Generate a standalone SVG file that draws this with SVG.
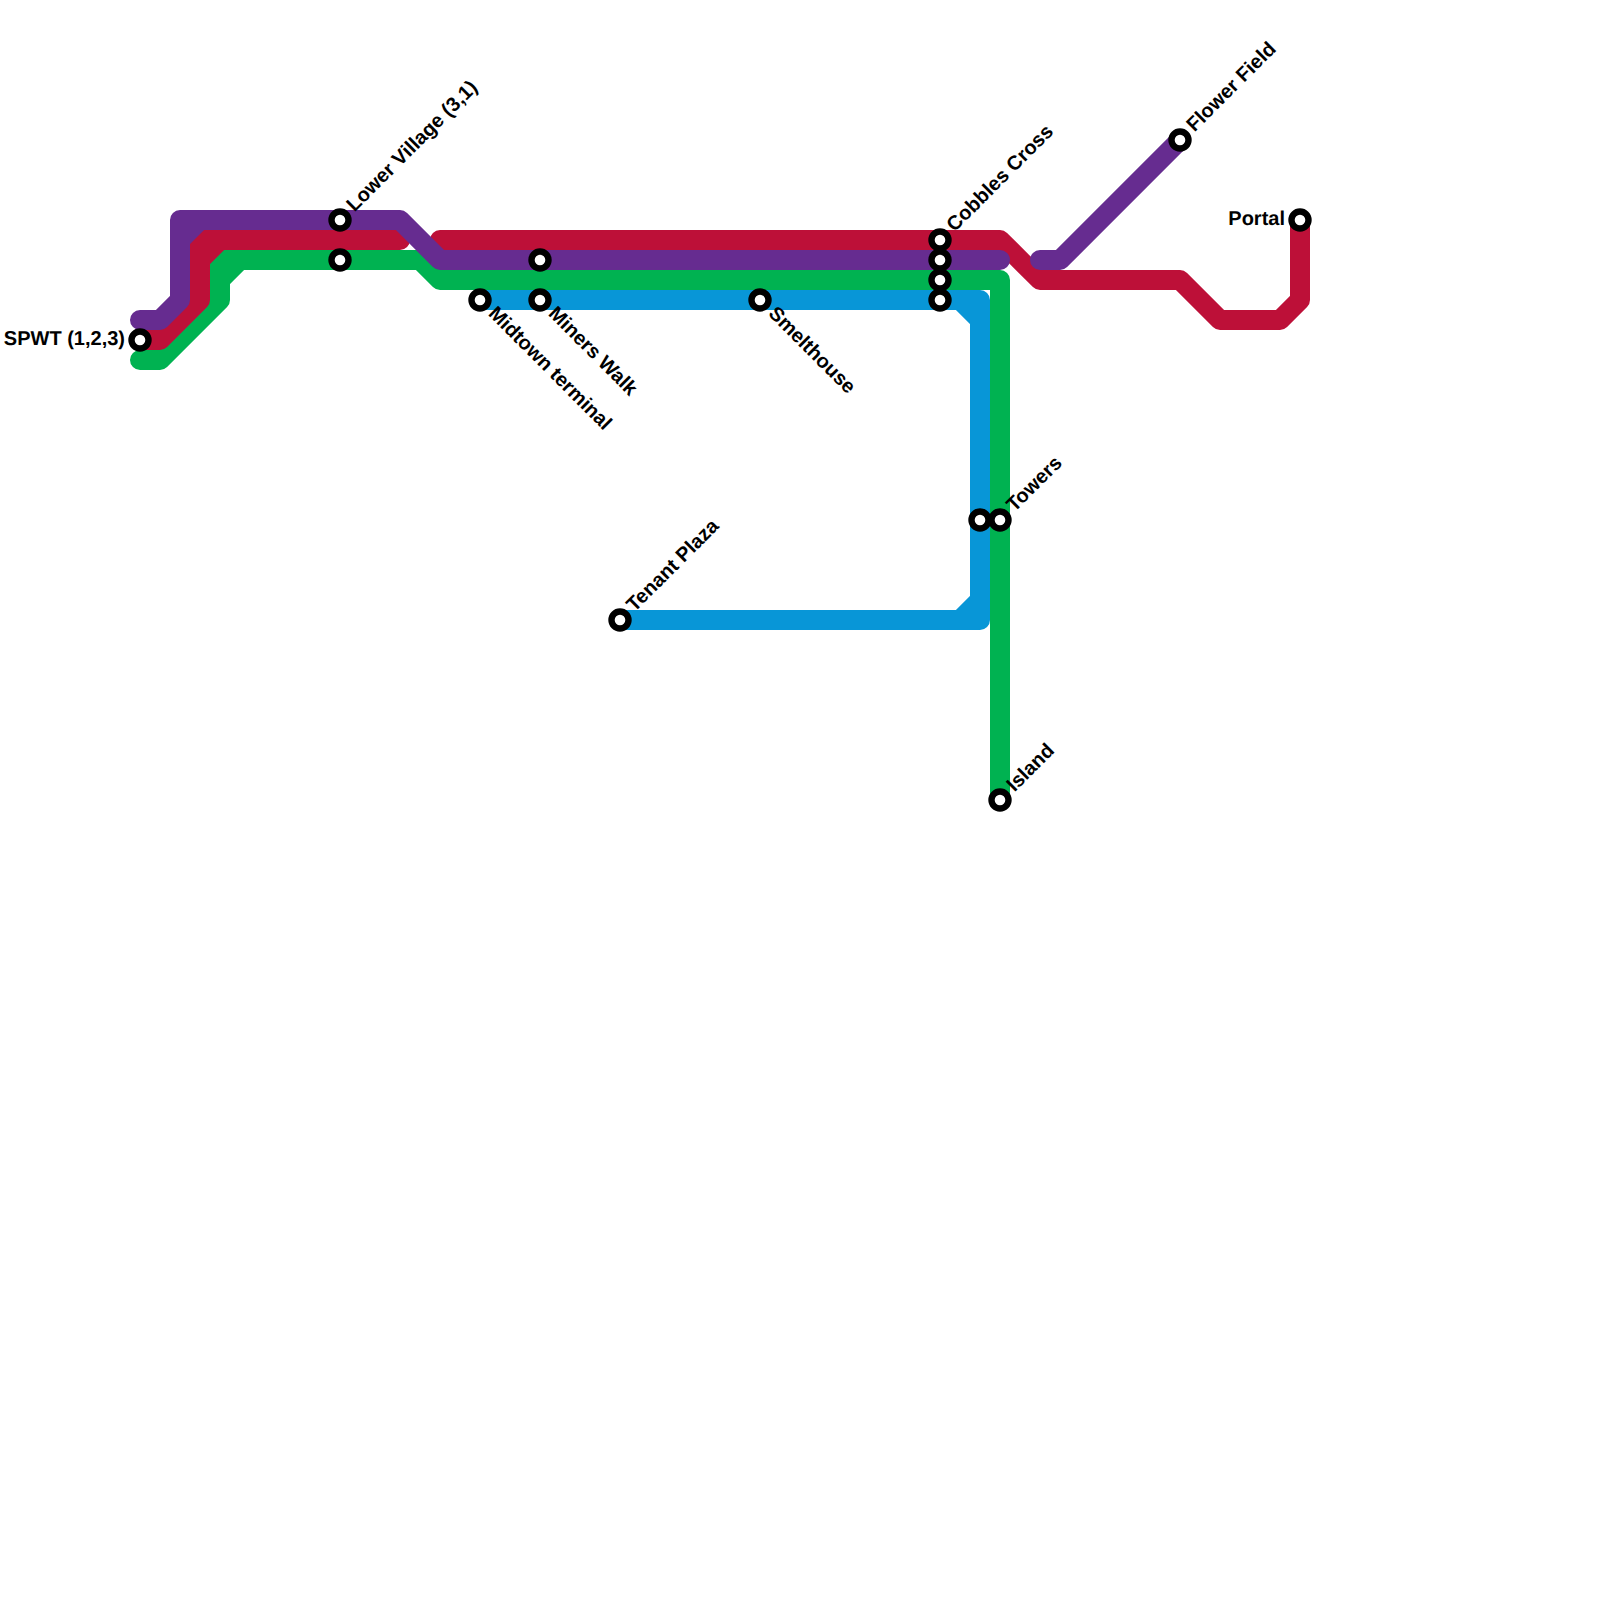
<svg xmlns="http://www.w3.org/2000/svg" width="1600" height="1600" viewBox="0 0 1600 1600">
<style>
.l{fill:none;stroke-width:20;stroke-linecap:round;stroke-linejoin:round}
.b{stroke:#0896d7}.g{stroke:#00b251}.r{stroke:#bd1038}.p{stroke:#662c90}
.s{fill:#fff;stroke:#000;stroke-width:6.4}
text{font-family:"Liberation Sans",Arial,sans-serif;font-size:20px;font-weight:700;fill:#000;text-rendering:geometricPrecision}
</style>
<rect width="1600" height="1600" fill="#fff"/>
<g id="connectors">
<path class="l b" d="M480 300H980V620H620M960 300L980 320M960 620L980 600"/>
<path class="l g" d="M140 360H160L220 300V260H420L440 280H1000V800M220 280L240 260"/>
<path class="l r" d="M140 340H160L200 300V240H400M200 260L220 240"/>
<path class="l r" d="M440 240H1000L1040 280H1180L1220 320H1280L1300 300V220"/>
<path class="l p" d="M140 320H160L180 300V220H400L440 260H1000M180 240L200 220"/>
<path class="l p" d="M1040 260H1060L1180 140"/>
</g>
<g id="spwt"><circle class="s" cx="140" cy="340" r="8.5"/><text x="125" y="340" dy="5" text-anchor="end">SPWT (1,2,3)</text></g>
<g id="lower-village"><circle class="s" cx="340" cy="220" r="8.5"/><text transform="translate(351 209) rotate(-45)" dy="5">Lower Village (3,1)</text></g>
<g id="lower-village-2"><circle class="s" cx="340" cy="260" r="8.5"/></g>
<g id="midtown"><circle class="s" cx="480" cy="300" r="8.5"/><text transform="translate(491 311) rotate(45)" dy="5">Midtown terminal</text></g>
<g id="miners-walk-2"><circle class="s" cx="540" cy="260" r="8.5"/></g>
<g id="miners-walk"><circle class="s" cx="540" cy="300" r="8.5"/><text transform="translate(551 311) rotate(45)" dy="5">Miners Walk</text></g>
<g id="smelthouse"><circle class="s" cx="760" cy="300" r="8.5"/><text transform="translate(771 311) rotate(45)" dy="5">Smelthouse</text></g>
<g id="cobbles-cross"><circle class="s" cx="940" cy="240" r="8.5"/><text transform="translate(951 229) rotate(-45)" dy="5">Cobbles Cross</text></g>
<g id="cobbles-2"><circle class="s" cx="940" cy="260" r="8.5"/></g>
<g id="cobbles-3"><circle class="s" cx="940" cy="280" r="8.5"/></g>
<g id="cobbles-4"><circle class="s" cx="940" cy="300" r="8.5"/></g>
<g id="towers-2"><circle class="s" cx="980" cy="520" r="8.5"/></g>
<g id="towers"><circle class="s" cx="1000" cy="520" r="8.5"/><text transform="translate(1011 509) rotate(-45)" dy="5">Towers</text></g>
<g id="island"><circle class="s" cx="1000" cy="800" r="8.5"/><text transform="translate(1011 789) rotate(-45)" dy="5">Island</text></g>
<g id="tenant-plaza"><circle class="s" cx="620" cy="620" r="8.5"/><text transform="translate(631 609) rotate(-45)" dy="5">Tenant Plaza</text></g>
<g id="flower-field"><circle class="s" cx="1180" cy="140" r="8.5"/><text transform="translate(1191 129) rotate(-45)" dy="5">Flower Field</text></g>
<g id="portal"><circle class="s" cx="1300" cy="220" r="8.5"/><text x="1285" y="220" dy="5" text-anchor="end">Portal</text></g>
</svg>
